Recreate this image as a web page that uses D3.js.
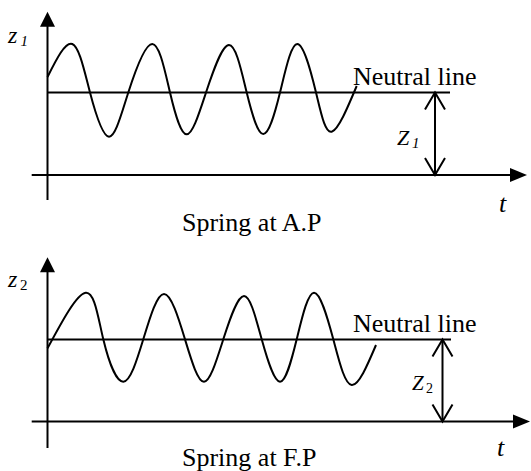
<!DOCTYPE html>
<html lang="en">
<head>
<meta charset="UTF-8">
<title>Spring displacement</title>
<script src="https://d3js.org/d3.v7.min.js"></script>
<style>
    body { margin: 0; background: #fff; }
    svg text { font-family: "Liberation Serif", "Times New Roman", serif; fill: #000; }
    .wave { fill: none; stroke: #000; stroke-width: 2; }
    .ax { stroke: #000; stroke-width: 2; }
</style>
</head>
<body>
<div id="chart"></div>
<script>
    const width = 531, height = 471;

    // wave points: [t, z] (time axis at z = 0)
    const wave1 = [
        [0, 9.8], [2.48, 13.1], [4.25, 8.25], [6.15, 3.83], [8.08, 8.25],
        [10.48, 13.1], [12.25, 8.25], [13.92, 4.07], [15.85, 8.25], [18.15, 13.0],
        [19.92, 8.25], [21.58, 4.1], [23.25, 8.25], [24.98, 13.1], [26.85, 8.25],
        [28.42, 4.33], [30.92, 8.9]
    ];
    const wave2 = [
        [0, 7.32], [3.82, 12.88], [5.58, 8.22], [7.58, 3.98], [9.58, 8.22],
        [11.65, 12.75], [13.75, 8.22], [15.65, 3.98], [17.58, 8.22], [19.65, 12.55],
        [21.42, 8.22], [23.25, 3.98], [24.92, 8.22], [26.65, 12.88], [28.58, 8.22],
        [30.42, 3.65], [32.85, 7.65]
    ];
    const neutralLevels = [8.25, 8.2];
    const neutralEnds = [40.25, 40.35];
    const markerT = [38.75, 39.5];
    const panelTitles = ["Spring at A.P", "Spring at F.P"];
    const zLabels = [["z", "1"], ["z", "2"]];
    const amplitudeLabels = [["Z", "1"], ["Z", "2"]];

    const svg = d3.select("#chart").append("svg")
        .attr("width", width).attr("height", height);

    // shared time scale, one z scale per panel
    const x = d3.scaleLinear().domain([0, 10]).range([47.5, 147.5]);

    const panels = [
        { axisY: 175, top: 11.7, bottom: 200, tipX: 527, titleY: 231, tY: 212, tX: 499,
          zlab: [8, 43, 20.5, 46, true], Zlab: [397, 145, 22, 412, 148, 15, true] },
        { axisY: 421.5, top: 257.3, bottom: 448, tipX: 530, titleY: 466, tY: 456, tX: 497,
          zlab: [8, 287, 20, 290, false], Zlab: [412, 390, 21, 426, 393, 14, false] }
    ];

    const waves = [wave1, wave2];

    panels.forEach((p, i) => {
        const y = d3.scaleLinear().domain([0, 10]).range([p.axisY, p.axisY - 100]);
        const g = svg.append("g");
        const x0 = x(0);

        // vertical axis with filled arrow head
        g.append("line").attr("class", "ax")
            .attr("x1", x0).attr("x2", x0)
            .attr("y1", p.top + 12).attr("y2", p.bottom);
        g.append("path")
            .attr("d", `M${x0},${p.top} L${x0 - 7.5},${p.top + 15} L${x0 + 7.5},${p.top + 15}Z`)
            .attr("fill", "#000");

        // time axis with filled arrow head
        g.append("line").attr("class", "ax")
            .attr("x1", 31.7).attr("x2", p.tipX - 14)
            .attr("y1", y(0)).attr("y2", y(0));
        g.append("path")
            .attr("d", `M${p.tipX},${y(0)} L${p.tipX - 17},${y(0) - 7} L${p.tipX - 17},${y(0) + 7}Z`)
            .attr("fill", "#000");

        // neutral line
        g.append("line").attr("class", "ax")
            .attr("x1", x0).attr("x2", x(neutralEnds[i]))
            .attr("y1", y(neutralLevels[i])).attr("y2", y(neutralLevels[i]));

        // wave
        const line = d3.line()
            .x(d => x(d[0])).y(d => y(d[1]))
            .curve(d3.curveNatural);
        g.append("path").attr("class", "wave").attr("d", line(waves[i]));

        // double headed amplitude marker
        const mx = x(markerT[i]), y1 = y(neutralLevels[i]), y2 = y(0);
        g.append("line").attr("class", "ax")
            .attr("x1", mx).attr("x2", mx).attr("y1", y1).attr("y2", y2);
        g.append("path").attr("class", "wave")
            .attr("d", `M${mx - 10},${y1 + 17} L${mx},${y1} L${mx + 10},${y1 + 17}` +
                       `M${mx - 10},${y2 - 17} L${mx},${y2} L${mx + 10},${y2 - 17}`);

        // texts
        g.append("text").attr("x", 353).attr("y", y(neutralLevels[i]) - 7.5)
            .attr("font-size", 26).text("Neutral line");
        g.append("text").attr("x", 182).attr("y", p.titleY)
            .attr("font-size", 26).text(panelTitles[i]);
        g.append("text").attr("x", p.tX).attr("y", p.tY)
            .attr("font-size", 26).attr("font-style", "italic").text("t");

        const zl = p.zlab;
        g.append("text").attr("x", zl[0]).attr("y", zl[1])
            .attr("font-size", 24).attr("font-style", "italic").text(zLabels[i][0]);
        g.append("text").attr("x", zl[2]).attr("y", zl[3])
            .attr("font-size", 15).attr("font-style", zl[4] ? "italic" : "normal")
            .text(zLabels[i][1]);

        const Zl = p.Zlab;
        g.append("text").attr("x", Zl[0]).attr("y", Zl[1])
            .attr("font-size", Zl[2]).attr("font-style", "italic").text(amplitudeLabels[i][0]);
        g.append("text").attr("x", Zl[3]).attr("y", Zl[4])
            .attr("font-size", Zl[5]).attr("font-style", Zl[6] ? "italic" : "normal")
            .text(amplitudeLabels[i][1]);
    });
</script>
</body>
</html>
